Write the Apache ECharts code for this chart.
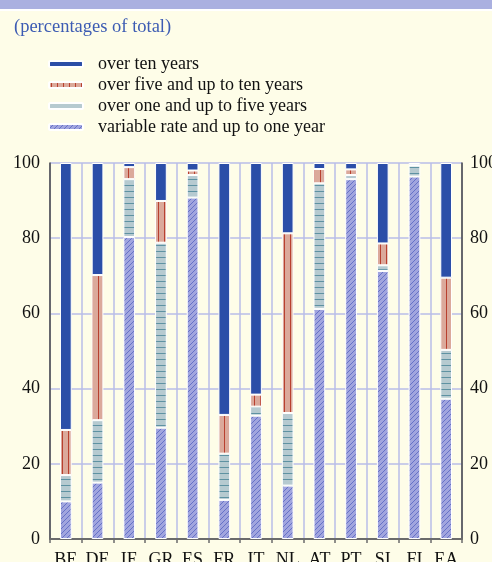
<!DOCTYPE html>
<html>
<head>
<meta charset="utf-8">
<script src="https://cdn.jsdelivr.net/npm/echarts@6/dist/echarts.min.js"></script>
<style>
  html, body { margin: 0; padding: 0; background: #fefde8; overflow: hidden; }
  #chart { width: 492px; height: 562px; }
</style>
</head>
<body>
<div id="chart"></div>
<script>
var countries = ['BE', 'DE', 'IE', 'GR', 'ES', 'FR', 'IT', 'NL', 'AT', 'PT', 'SI', 'FI', 'EA'];
// bottom to top of each stack
var variableRate = [10, 15, 80.3, 29.6, 90.8, 10.4, 32.8, 14.2, 61.2, 95.7, 71.3, 96.4, 37.3];
var oneToFive    = [7, 16.6, 15.4, 49.2, 6, 12.3, 2.4, 19.3, 33.4, 1.1, 1.5, 2.9, 13];
var fiveToTen    = [12, 38.6, 3.2, 11.1, 1.2, 10.3, 3.2, 47.8, 3.8, 1.5, 5.8, 0.2, 19.2];
var overTen      = [71, 29.8, 1.1, 10.1, 2, 67, 61.6, 18.7, 1.6, 1.7, 21.4, 0.5, 30.5];
var yTicks = [0, 20, 40, 60, 80, 100];

var names = ['over ten years', 'over five and up to ten years',
             'over one and up to five years', 'variable rate and up to one year'];

function makeTile(w, h, bg, draw) {
  var c = document.createElement('canvas');
  c.width = w; c.height = h;
  var ctx = c.getContext('2d');
  ctx.fillStyle = bg;
  ctx.fillRect(0, 0, w, h);
  draw(ctx);
  return { image: c, repeat: 'repeat' };
}

var diagFill = makeTile(5, 5, '#a1a5de', function (ctx) {
  ctx.fillStyle = '#6672c8';
  for (var i = 0; i < 5; i++) ctx.fillRect(4 - i, i, 1, 1);
});
var horizFill = makeTile(6, 6, '#b6cad0', function (ctx) {
  ctx.fillStyle = '#5e92a2';
  ctx.fillRect(0, 5, 6, 1);
});
var vertFill = makeTile(6, 6, '#dba99b', function (ctx) {
  ctx.fillStyle = '#b8402f';
  ctx.fillRect(2, 0, 1, 6);
});

function serie(name, data, color) {
  return {
    name: name,
    type: 'bar',
    stack: 'total',
    barWidth: '37%',
    data: data,
    itemStyle: { color: color, borderColor: '#ffffff', borderWidth: 1 }
  };
}

var chart = echarts.init(document.getElementById('chart'));
var labelFont = { fontFamily: 'Liberation Serif', fontSize: 18, color: '#111' };

chart.setOption({
  backgroundColor: '#fefde8',
  animation: false,
  graphic: [
    { type: 'rect', shape: { x: 0, y: 0, width: 492, height: 9 }, style: { fill: '#aab0e0' } },
    { type: 'rect', shape: { x: 0, y: 9, width: 492, height: 2 }, style: { fill: '#ffffff' } }
  ],
  title: {
    text: '(percentages of total)',
    left: 9, top: 13,
    textStyle: { fontFamily: 'Liberation Serif', fontSize: 18.5, fontWeight: 'normal', color: '#3d5cb3' }
  },
  legend: {
    data: names,
    orient: 'vertical',
    left: 48, top: 55,
    padding: 0,
    itemWidth: 34, itemHeight: 6,
    itemGap: 3,
    textStyle: { fontFamily: 'Liberation Serif', fontSize: 18, color: '#111', padding: [0, 0, 0, 10] }
  },
  grid: { left: 50, right: 30, top: 163, bottom: 23, outerBoundsMode: 'none' },
  xAxis: {
    type: 'category',
    data: countries,
    axisLine: { lineStyle: { color: '#6b6b6b', width: 2 } },
    axisTick: { show: true, length: 4, lineStyle: { color: '#6b6b6b', width: 1.5 } },
    axisLabel: Object.assign({ margin: 12, interval: 0 }, labelFont),
    splitLine: { show: true, lineStyle: { color: '#b9bde8', width: 1.5 } }
  },
  yAxis: [
    {
      type: 'value', min: yTicks[0], max: yTicks[yTicks.length - 1], interval: 20,
      axisLine: { show: true, lineStyle: { color: '#444', width: 1.5 } },
      axisTick: { show: false },
      axisLabel: Object.assign({ margin: 10 }, labelFont),
      splitLine: { lineStyle: { color: '#b9bde8', width: 1.5 } }
    },
    {
      type: 'value', min: yTicks[0], max: yTicks[yTicks.length - 1], interval: 20,
      position: 'right',
      axisLine: { show: true, lineStyle: { color: '#444', width: 1.5 } },
      axisTick: { show: false },
      axisLabel: Object.assign({ margin: 8 }, labelFont),
      splitLine: { show: false }
    }
  ],
  series: [
    serie(names[3], variableRate, diagFill),
    serie(names[2], oneToFive, horizFill),
    serie(names[1], fiveToTen, vertFill),
    serie(names[0], overTen, '#2b4ea8')
  ]
});
</script>
</body>
</html>
